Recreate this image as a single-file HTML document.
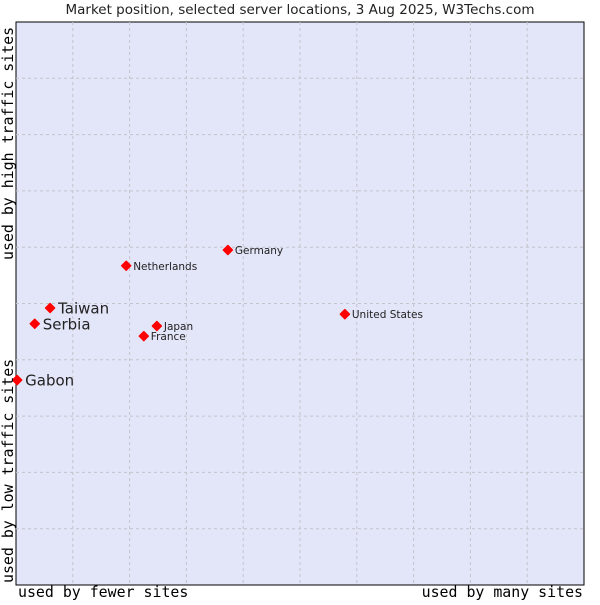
<!DOCTYPE html>
<html><head><meta charset="utf-8"><style>
body{margin:0;background:#fff;width:600px;height:600px;overflow:hidden}
text{font-family:"DejaVu Sans","Liberation Sans",sans-serif;fill:#222}
.mono{font-family:"DejaVu Sans Mono","Liberation Mono",monospace;fill:#000}
</style></head><body>
<svg id="c" width="600" height="600">
<text x="300" y="14" text-anchor="middle" font-size="13.5">Market position, selected server locations, 3 Aug 2025, W3Techs.com</text>
<rect x="16" y="22" width="568" height="563" fill="#e3e5f8" stroke="#000" stroke-width="1"/>
<g id="grid"></g>
<g id="pts"></g>
<text class="mono" x="18" y="597" font-size="14.9">used by fewer sites</text>
<text class="mono" x="583" y="597" font-size="14.9" text-anchor="end">used by many sites</text>
<text class="mono" transform="translate(13,583) rotate(-90)" font-size="14.9">used by low traffic sites</text>
<text class="mono" transform="translate(13,260) rotate(-90)" font-size="14.9">used by high traffic sites</text>
</svg>
<script>
const names=["Gabon","Serbia","Taiwan","Netherlands","Germany","Japan","France","United States"];
const xVals=[0.2,3.3,6.0,19.4,37.3,24.8,22.5,57.9];
const yVals=[36.4,46.4,49.2,56.7,59.5,46.0,44.2,48.1];
const big=[true,true,true,false,false,false,false,false];
const L=16,T=22,W=568,H=563;
const sx=v=>L+v/100*W, sy=v=>T+H-v/100*H;
const NS="http://www.w3.org/2000/svg";
const g=document.getElementById('grid'), p=document.getElementById('pts');
for(let i=1;i<10;i++){
 const a=document.createElementNS(NS,'line');
 
 
 a.setAttribute('x1',sx(i*10));a.setAttribute('x2',sx(i*10));a.setAttribute('y1',T);a.setAttribute('y2',T+H);
 a.setAttribute('stroke','#c4c4cc');a.setAttribute('stroke-dasharray','3,3');g.appendChild(a);
 const b=document.createElementNS(NS,'line');
 
 
 b.setAttribute('y1',sy(i*10));b.setAttribute('y2',sy(i*10));b.setAttribute('x1',L);b.setAttribute('x2',L+W);
 b.setAttribute('stroke','#c4c4cc');b.setAttribute('stroke-dasharray','3,3');g.appendChild(b);
}
names.forEach((n,i)=>{
 const x=sx(xVals[i]),y=sy(yVals[i]);
 const c=document.createElementNS(NS,'path');
 
 
 c.setAttribute('d',`M${x},${y-4.5}L${x+4.5},${y}L${x},${y+4.5}L${x-4.5},${y}Z`);
 c.setAttribute('fill','#f00');c.setAttribute('stroke','#f00');c.setAttribute('stroke-width','1.5');c.setAttribute('stroke-linejoin','round');
 p.appendChild(c);
 const t=document.createElementNS(NS,'text');
 
 
 t.setAttribute('x',x+(big[i]?8:7));t.setAttribute('y',y+(big[i]?5.5:4));
 t.setAttribute('font-size',big[i]?'15':'10.5');
 t.textContent=n;p.appendChild(t);
});
</script>
</body></html>
